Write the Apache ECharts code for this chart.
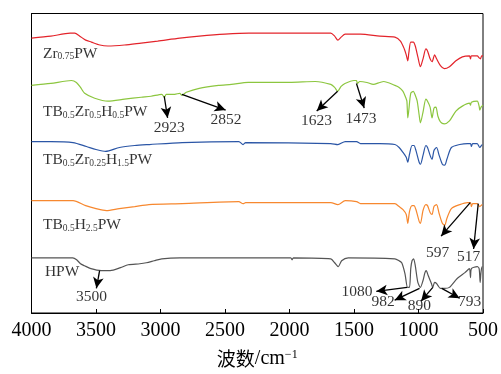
<!DOCTYPE html>
<html>
<head>
<meta charset="utf-8">
<script src="https://cdn.jsdelivr.net/npm/echarts@6.0.0/dist/echarts.min.js"></script>
<style>
html, body { margin: 0; padding: 0; background: #fff; }
#main { width: 501px; height: 374px; }
</style>
</head>
<body>
<div id="main"></div>
<script>
// wavenumber (cm-1), relative transmittance (curves are stacked with offsets)
var zr075 = [[4000,279],[3850,281],[3700,284],[3665,284],[3626,281],[3580,277],[3536,275],[3470,272],[3408,271],[3279,272],[3150,274],[3022,276],[2850,279],[2699,281],[2500,283],[2315,284],[2000,284],[1760,284],[1680,284],[1650,281],[1625,277],[1600,280],[1568,283],[1450,283],[1300,281],[1183,280],[1140,276],[1110,268],[1095,262],[1083,256],[1075,264],[1060,275],[1040,275],[1025,271],[1005,260],[985,250],[965,258],[943,268],[930,266],[910,258],[895,255],[875,262],[860,258],[830,251],[800,248],[760,250],[710,256],[660,260],[605,261],[597,258],[590,261],[545,261],[530,259],[520,258],[510,261],[500,261]];

var tbZrH05 = [[4000,231],[3850,233],[3690,236],[3652,234],[3620,229],[3588,223],[3510,218],[3408,215],[3279,217],[3150,219],[3073,220],[2990,222],[2970,219],[2955,222],[2890,222],[2850,223],[2835,221],[2800,224],[2700,228],[2550,231],[2450,232],[2320,234],[2000,234],[1800,235],[1680,232],[1650,229],[1627,225],[1600,230],[1570,233],[1500,236],[1481,236],[1473,233],[1455,235],[1400,234],[1350,232],[1300,234],[1270,235],[1183,231],[1150,229],[1120,225],[1100,219],[1090,215],[1083,198],[1075,206],[1060,223],[1040,225],[1025,221],[1010,215],[995,201],[985,193],[965,204],[943,217],[930,215],[910,209],[895,198],[880,208],[865,209],[850,200],[830,194],[800,192],[760,195],[710,205],[660,210],[605,213],[597,211],[590,214],[545,215],[530,210],[525,206],[515,209],[500,211]];

var tbZrH15 = [[4000,174],[3850,174],[3678,173],[3574,169],[3500,166],[3426,164],[3318,168],[3200,170],[3086,171],[2832,173],[2393,174],[2360,171],[2340,173],[1680,172],[1625,171],[1568,174],[1480,174],[1450,172],[1300,172],[1183,171],[1150,168],[1120,163],[1095,158],[1083,153],[1070,161],[1050,170],[1035,170],[1020,165],[995,153],[985,151],[965,160],[943,170],[930,168],[910,160],[895,156],[880,165],[860,168],[840,160],[815,151],[797,150],[780,156],[745,168],[680,171],[620,172],[597,172],[590,169],[580,172],[545,172],[525,168],[505,171],[500,171]];

var tbH25 = [[4000,114],[3850,114],[3678,114],[3580,109],[3500,106],[3420,104],[3320,106],[3200,108],[3090,110],[2830,111],[2393,113],[2360,111],[2340,112],[1680,112],[1625,110],[1568,114],[1480,113],[1450,111],[1300,111],[1183,111],[1150,108],[1120,105],[1095,100],[1083,91],[1070,103],[1050,109],[1035,109],[1020,105],[995,93],[985,91],[965,104],[943,110],[930,109],[910,102],[895,100],[880,108],[860,110],[840,101],[815,91],[797,89],[780,96],[745,106],[680,110],[620,112],[597,112],[590,108],[580,111],[545,111],[525,108],[505,110],[500,110]];

var hpw = [[4000,56],[3800,56],[3680,56],[3650,54],[3620,50],[3590,48],[3540,45],[3460,43],[3390,43],[3310,46],[3250,49],[3160,50],[3110,51],[3050,53],[2990,55],[2850,56],[2315,56],[1990,56],[1980,54],[1970,56],[1680,55],[1650,51],[1622,47],[1596,53],[1545,56],[1183,55],[1150,53],[1130,51],[1105,40],[1085,26],[1070,26],[1060,45],[1050,53],[1038,55],[1025,48],[1005,31],[985,26],[965,33],[950,41],[940,43],[925,38],[900,30],[890,26],[875,31],[860,30],[850,28],[830,25],[800,25],[760,26],[700,35],[640,41],[605,45],[597,36],[590,45],[545,47],[530,45],[522,31],[515,42],[505,47],[500,47]];

var xTicks = [4000, 3500, 3000, 2500, 2000, 1500, 1000, 500];

// sample names, where they sit (wavenumber, level)
var sampleNames = [
    [3911, 263, '{b|Zr}{s|0.75}{b|PW}'],
    [3911, 204, '{b|TB}{s|0.5}{b|Zr}{s|0.5}{b|H}{s|0.5}{b|PW}'],
    [3911, 155, '{b|TB}{s|0.5}{b|Zr}{s|0.25}{b|H}{s|1.5}{b|PW}'],
    [3911, 89, '{b|TB}{s|0.5}{b|H}{s|2.5}{b|PW}'],
    [3896, 42, '{b|HPW}']
];

// peak labels
var peakLabels = [
    [2932, 188, '2923'],
    [2493, 196, '2852'],
    [1791, 195, '1623'],
    [1445, 197, '1473'],
    [851, 61, '597'],
    [612, 57, '517'],
    [3534, 16, '3500'],
    [1476, 21, '1080'],
    [1275, 11, '982'],
    [993, 7, '890'],
    [604, 11, '793']
];

// arrows: from [wn, level] to [wn, level]
var arrows = [
    [[2971, 220], [2945, 198]],
    [[2834, 222], [2495, 206]],
    [[1627, 225], [1789, 205]],
    [[1481, 233], [1421, 208]],
    [[599, 112], [825, 78]],
    [[537, 111], [573, 65]],
    [[3472, 43], [3497, 25]],
    [[1088, 26], [1327, 22]],
    [[992, 25], [1185, 13]],
    [[889, 26], [980, 12]],
    [[820, 25], [681, 15]]
];

var myChart = echarts.init(document.getElementById('main'));

var serif = "'Liberation Serif', 'Times New Roman', serif";

function lineSeries(name, data, color) {
    return {
        name: name,
        type: 'line',
        data: data,
        showSymbol: false,
        smooth: 0.25,
        lineStyle: { color: color, width: 1.2 },
        z: 2
    };
}

var option = {
    animation: false,
    backgroundColor: '#fff',
    grid: {
        left: 31.5,
        right: 15.5,
        top: 13.5,
        bottom: 56,
        show: true,
        borderColor: '#000',
        borderWidth: 1
    },
    xAxis: {
        type: 'value',
        inverse: true,
        min: 500,
        max: 4000,
        interval: 500,
        name: '{c|波数}{t|/cm}{sup|−1}',
        nameLocation: 'middle',
        nameGap: 36,
        nameTextStyle: {
            rich: {
                c: { fontFamily: "'Noto Sans CJK SC'", fontSize: 19, color: '#000' },
                t: { fontFamily: serif, fontSize: 20, color: '#000' },
                sup: { fontFamily: serif, fontSize: 12, color: '#000', verticalAlign: 'top', lineHeight: 20 }
            }
        },
        axisLine: { lineStyle: { color: '#000', width: 1 } },
        axisTick: { inside: true, length: 4, lineStyle: { color: '#000' } },
        axisLabel: {
            color: '#000',
            fontFamily: serif,
            fontSize: 20,
            margin: 8,
            customValues: xTicks,
            formatter: function (v) { return String(v); }
        },
        splitLine: { show: false }
    },
    yAxis: {
        type: 'value',
        min: 0,
        max: 304,
        axisLine: { show: true, lineStyle: { color: '#000' } },
        axisTick: { show: false },
        axisLabel: { show: false },
        splitLine: { show: false }
    },
    series: [
        lineSeries('Zr0.75PW', zr075, '#e3242b'),
        lineSeries('TB0.5Zr0.5H0.5PW', tbZrH05, '#8cc63f'),
        lineSeries('TB0.5Zr0.25H1.5PW', tbZrH15, '#2b56a6'),
        lineSeries('TB0.5H2.5PW', tbH25, '#f7882f'),
        lineSeries('HPW', hpw, '#545454'),
        {
            name: 'names',
            type: 'scatter',
            symbolSize: 0,
            data: sampleNames,
            silent: true,
            label: {
                show: true,
                position: 'right',
                distance: 0,
                formatter: function (p) { return p.value[2]; },
                rich: {
                    b: { fontFamily: serif, fontSize: 15.5, color: '#000', lineHeight: 16 },
                    s: { fontFamily: serif, fontSize: 9.5, color: '#000', verticalAlign: 'bottom', lineHeight: 9 }
                }
            },
            z: 5
        },
        {
            name: 'peaks',
            type: 'scatter',
            symbolSize: 0,
            data: peakLabels,
            silent: true,
            label: {
                show: true,
                position: 'inside',
                formatter: function (p) { return p.value[2]; },
                fontFamily: serif,
                fontSize: 15.5,
                color: '#000'
            },
            markLine: {
                silent: true,
                symbol: ['none', 'arrow'],
                symbolSize: [8, 11],
                label: { show: false },
                lineStyle: { color: '#000', width: 1.3, type: 'solid' },
                data: arrows.map(function (a) {
                    return [{ coord: a[0] }, { coord: a[1] }];
                })
            },
            z: 5
        }
    ]
};

myChart.setOption(option);
</script>
</body>
</html>
